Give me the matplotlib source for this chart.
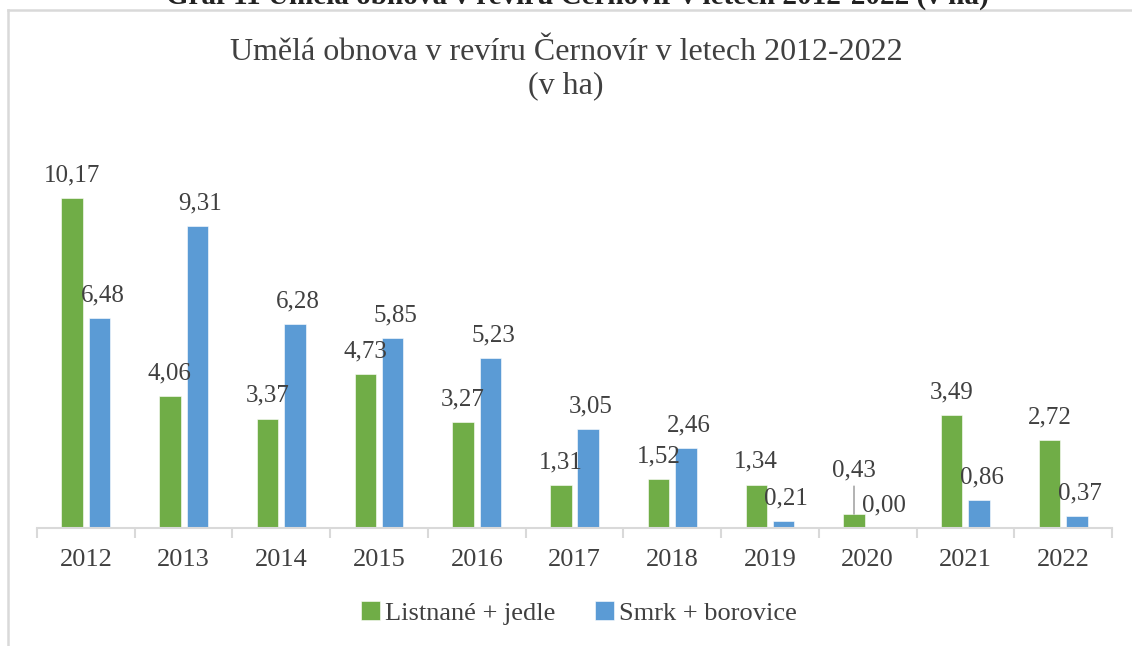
import numpy as np
import matplotlib
matplotlib.use('Agg')
import matplotlib.pyplot as plt
from matplotlib.lines import Line2D

# data
years = ['2012', '2013', '2014', '2015', '2016', '2017', '2018', '2019', '2020', '2021', '2022']
listnane = [10.17, 4.06, 3.37, 4.73, 3.27, 1.31, 1.52, 1.34, 0.43, 3.49, 2.72]
smrk = [6.48, 9.31, 6.28, 5.85, 5.23, 3.05, 2.46, 0.21, 0.00, 0.86, 0.37]
series_names = ['Listnané + jedle', 'Smrk + borovice']
title = 'Umělá obnova v revíru Černovír v letech 2012-2022\n(v ha)'
caption = 'Graf 11 Umělá obnova v revíru Černovír v letech 2012-2022 (v ha)'

green = '#70AD47'
blue = '#5B9BD5'
txt = '#404040'
grey = '#D9D9D9'

plt.rcParams['font.family'] = ['Liberation Serif', 'DejaVu Serif']

fig = plt.figure(figsize=(11.32, 6.46), dpi=100)
ax = fig.add_axes([37/1132, 1-528/646, (1112-37)/1132, (528-138.5)/646])

x = np.arange(len(years))
w = 0.22
off = 0.14
ax.bar(x - off, listnane, w, color=green, edgecolor='white', linewidth=0.4, label=series_names[0])
ax.bar(x + off, smrk, w, color=blue, edgecolor='white', linewidth=0.4, label=series_names[1])

def fmt(v):
    return ('%.2f' % v).replace('.', ',')

for i, v in enumerate(listnane):
    dy = 12
    if years[i] == '2020':
        # label moved up with a leader line
        dy = 27
        ax.annotate('', xy=(x[i] - off, v), xytext=(0, 20), textcoords='offset points',
                    arrowprops=dict(arrowstyle='-', color='#A6A6A6', lw=1.2, shrinkA=0, shrinkB=0))
    ax.annotate(fmt(v), (x[i] - off, v), xytext=(0, dy), textcoords='offset points',
                ha='center', va='baseline', fontsize=18, color=txt)
for i, v in enumerate(smrk):
    ax.annotate(fmt(v), (x[i] + off, v), xytext=(2, 12), textcoords='offset points',
                ha='center', va='baseline', fontsize=18, color=txt)

ax.set_xlim(-0.5, len(years) - 0.5)
ax.set_ylim(0, 12)
ax.set_xticks(x)
ax.set_xticklabels(years, fontsize=19, color=txt)
ax.set_xticks(np.arange(-0.5, len(years)), minor=True)
ax.tick_params(axis='x', which='major', length=0, pad=15)
ax.tick_params(axis='x', which='minor', length=7, width=1.5, color=grey, direction='out')
ax.set_yticks([])
for s in ['top', 'right', 'left']:
    ax.spines[s].set_visible(False)
ax.spines['bottom'].set_color(grey)
ax.spines['bottom'].set_linewidth(1.5)

fig.text(0.5, 1-69/646, title, ha='center', va='center', fontsize=23, color=txt, linespacing=1.2)

# caption cut off at the top of the image
fig.text(577/1132, 1-4/646, caption, ha='center', va='baseline', fontsize=21,
         fontweight='bold', color='#222222')

# chart border
fig.add_artist(Line2D([8/1132, 1], [1-10/646, 1-10/646], transform=fig.transFigure, color=grey, lw=1.8))
fig.add_artist(Line2D([8/1132, 8/1132], [0, 1-10/646], transform=fig.transFigure, color=grey, lw=1.8))

leg = fig.legend(loc='center', bbox_to_anchor=(579/1132, 1-613/646), ncol=2, frameon=False,
                 fontsize=19, handlelength=0.7, handleheight=0.7, handletextpad=0.2,
                 columnspacing=1.5)
for t in leg.get_texts():
    t.set_color(txt)

fig.savefig('out.png', dpi=100)
